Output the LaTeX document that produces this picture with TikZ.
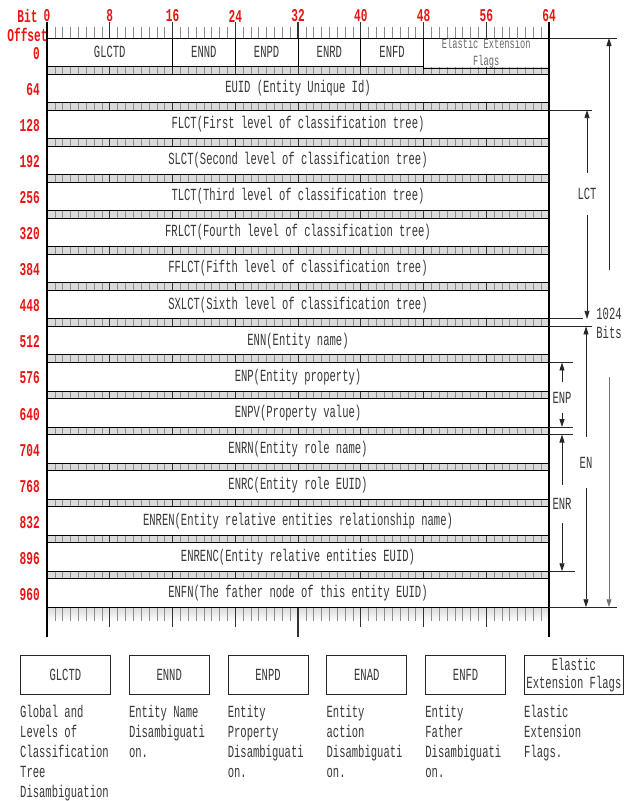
\documentclass[tikz,border=0pt]{standalone}
\usepackage{fontspec}
\setmainfont[FakeStretch=0.62]{Liberation Mono}
\usetikzlibrary{arrows.meta, positioning}
\definecolor{offsetred}{RGB}{235,20,20}
\definecolor{stripgray}{RGB}{218,218,218}
\definecolor{tickgray}{RGB}{140,140,140}
\definecolor{textgray}{RGB}{55,55,55}

\begin{document}
\begin{tikzpicture}[
    x=1pt, y=-1pt,
    >={Triangle[length=8pt, width=5pt]},
    % Table styles
    rowbox/.style={
        rectangle, draw=black, fill=white,
        text=textgray, font=\fontsize{17}{19}\selectfont,
        minimum width=502pt, minimum height=28.5pt,
        inner sep=0pt, outer sep=0pt, line width=0.9pt
    },
    cellbox/.style={
        rectangle, draw=black, fill=white,
        text=textgray, font=\fontsize{17}{19}\selectfont,
        minimum height=28.5pt, align=center,
        inner sep=0pt, outer sep=0pt, line width=0.9pt
    },
    offset/.style={
        text=offsetred, font=\fontsize{18}{21}\selectfont\bfseries,
        inner sep=0pt, align=center
    },
    minortick/.style={draw=tickgray, line width=0.6pt},
    majortick/.style={draw=black!80, line width=0.9pt},
    % Dimension styles
    dimlabel/.style={
        text=textgray, font=\fontsize{17}{19}\selectfont,
        align=center, inner sep=0pt
    },
    dimarrow/.style={->, line width=0.8pt, color=black!85},
    extline/.style={line width=0.8pt, color=black!85},
    % Key styles
    keybox/.style={
        rectangle, draw=black!85, fill=white,
        text=textgray, font=\fontsize{17}{19}\selectfont,
        minimum height=39pt, align=center,
        inner sep=0pt, line width=0.8pt
    },
    keydesc/.style={
        text=textgray, font=\fontsize{17}{20}\selectfont,
        align=left, inner sep=0pt
    },
]
\useasboundingbox (0,0) rectangle (625,801);

% ===== STRIPS BETWEEN ROWS =====
\foreach \i in {0,...,14} {
    \pgfmathsetmacro\ya{38+\i*36.05+28.5}
    \pgfmathsetmacro\yb{38+(\i+1)*36.05}
    \fill[stripgray] (47,\ya) rectangle (549,\yb);
    \foreach \b in {1,...,63} {
        \pgfmathsetmacro\xb{47+\b*7.84375}
        \draw[minortick] (\xb,\ya) -- (\xb,\yb);
    }
    \foreach \b in {8,16,...,56} {
        \pgfmathsetmacro\xb{47+\b*7.84375}
        \draw[majortick] (\xb,\ya) -- (\xb,\yb);
    }
}
% last strip fades out
\shade[top color=stripgray, bottom color=white] (47,607.25) rectangle (549,621);
\foreach \b in {1,...,63} {
    \pgfmathsetmacro\xb{47+\b*7.84375}
    \draw[minortick] (\xb,607.25) -- (\xb,621);
}
\foreach \b in {8,16,24,40,48,56} {
    \pgfmathsetmacro\xb{47+\b*7.84375}
    \draw[majortick] (\xb,607.25) -- (\xb,627);
}
\draw[majortick, line width=1.4pt] (298,607.25) -- (298,637);

% ===== ROW 0: FIELD CELLS =====
\foreach \name/\lo/\hi/\txt in {glctd/0/16/GLCTD, ennd/16/24/ENND, enpd/24/32/ENPD, enrd/32/40/ENRD, enfd/40/48/ENFD} {
    \pgfmathsetmacro\xl{47+\lo*7.84375}
    \pgfmathsetmacro\cellw{(\hi-\lo)*7.84375}
    \node[cellbox, minimum width=\cellw pt, anchor=north west] (\name) at (\xl,38) {\txt};
}
\node[cellbox, minimum width=125.5pt, anchor=north west, fill=none,
      font=\fontsize{14}{16}\selectfont, text=black!60] (eef) at (423.5,38) {Elastic Extension\\[1pt]Flags};

% ===== ROWS 1-15 =====
\foreach \i/\txt in {
    1/{EUID (Entity Unique Id)},
    2/{FLCT(First level of classification tree)},
    3/{SLCT(Second level of classification tree)},
    4/{TLCT(Third level of classification tree)},
    5/{FRLCT(Fourth level of classification tree)},
    6/{FFLCT(Fifth level of classification tree)},
    7/{SXLCT(Sixth level of classification tree)},
    8/{ENN(Entity name)},
    9/{ENP(Entity property)},
    10/{ENPV(Property value)},
    11/{ENRN(Entity role name)},
    12/{ENRC(Entity role EUID)},
    13/{ENREN(Entity relative entities relationship name)},
    14/{ENRENC(Entity relative entities EUID)},
    15/{ENFN(The father node of this entity EUID)}} {
    \pgfmathsetmacro\ytop{38+\i*36.05}
    \node[rowbox, anchor=north west] (row\i) at (47,\ytop) {\txt};
}

% ===== FRAME AND BIT RULER =====
\draw[line width=1.6pt] (47,22) -- (47,637);
\draw[line width=1.6pt] (549,22) -- (549,637);
\foreach \b in {1,...,63} {
    \pgfmathsetmacro\xb{47+\b*7.84375}
    \draw[minortick] (\xb,27) -- (\xb,38);
}
\foreach \b in {8,16,...,56} {
    \pgfmathsetmacro\xb{47+\b*7.84375}
    \draw[majortick, line width=1.1pt] (\xb,22) -- (\xb,38);
}
\foreach \b in {0,8,...,64} {
    \pgfmathsetmacro\xb{47+\b*7.84375}
    \node[offset] (bit\b) at (\xb,16) {\b};
}
\node[offset] (bitlbl) at (27.5,16) {Bit};
\node[offset] (offsetlbl) at (27.5,35) {Offset};
\foreach \i in {0,...,15} {
    \pgfmathtruncatemacro\off{64*\i}
    \pgfmathsetmacro\yc{38+\i*36.05+15.6}
    \node[offset, anchor=east] (off\i) at (40,\yc) {\off};
}

% ===== DIMENSIONS =====
\coordinate (topend) at (617,38);
\coordinate (botend) at (617,607.25);
\draw[extline] (eef.north east) -- (eef.north east -| topend);
\draw[extline] (row15.south east) -- (row15.south east -| botend);

% 1024 bits
\node[dimlabel, minimum height=107pt] (bits) at (609,323.5) {1024\\Bits};
\draw[dimarrow] (bits.north) -- (bits.north |- topend);
\draw[dimarrow, color=black!55] (bits.south) -- (bits.south |- botend);

% LCT
\coordinate (lcttop) at (592,110.1);
\coordinate (lctbot) at (583,318.85);
\draw[extline] (row2.north east) -- (row2.north east -| lcttop);
\draw[extline] (row7.south east) -- (row7.south east -| lctbot);
\node[dimlabel, minimum height=42pt] (lct) at (587,194) {LCT};
\draw[dimarrow] (lct.north) -- (lct.north |- lcttop);
\draw[dimarrow] (lct.south) -- (lct.south |- lctbot);

% EN
\coordinate (entop) at (592,326.4);
\draw[extline] (row8.north east) -- (row8.north east -| entop);
\node[dimlabel, minimum height=51pt] (en) at (586,462.5) {EN};
\draw[dimarrow] (en.north) -- (en.north |- entop);
\draw[dimarrow] (en.south) -- (en.south |- botend);

% ENP
\coordinate (enptop) at (573,362.45);
\coordinate (enpbot) at (573,427);
\draw[extline] (row9.north east) -- (row9.north east -| enptop);
\draw[extline] (row10.south east) -- (row10.south east -| enpbot);
\node[dimlabel, minimum height=31pt] (enp) at (562,397.5) {ENP};
\draw[dimarrow] (enp.north) -- (enp.north |- enptop);
\draw[dimarrow] (enp.south) -- (enp.south |- enpbot);

% ENR
\coordinate (enrtop) at (573,434.55);
\coordinate (enrbot) at (575,571.25);
\draw[extline] (row11.north east) -- (row11.north east -| enrtop);
\draw[extline] (row14.south east) -- (row14.south east -| enrbot);
\node[dimlabel, minimum height=38pt] (enr) at (562,504) {ENR};
\draw[dimarrow] (enr.north) -- (enr.north |- enrtop);
\draw[dimarrow] (enr.south) -- (enr.south |- enrbot);

% ===== KEY =====
\node[keybox, minimum width=90pt, anchor=north west] (kglctd) at (20,655) {GLCTD};
\node[keybox, minimum width=80pt, right=18pt of kglctd] (kennd) {ENND};
\node[keybox, minimum width=80pt, right=18pt of kennd] (kenpd) {ENPD};
\node[keybox, minimum width=80pt, right=18pt of kenpd] (kenad) {ENAD};
\node[keybox, minimum width=80pt, right=18pt of kenad] (kenfd) {ENFD};
\node[keybox, minimum width=99pt, right=18pt of kenfd, font=\fontsize{17}{18}\selectfont] (keef) {Elastic\\Extension Flags};

\node[keydesc, below=10pt of kglctd.south west, anchor=north west] (dglctd) {Global and\\Levels of\\Classification\\Tree\\Disambiguation};
\node[keydesc, below=10pt of kennd.south west, anchor=north west] (dennd) {Entity Name\\Disambiguati\\on.};
\node[keydesc, below=10pt of kenpd.south west, anchor=north west] (denpd) {Entity\\Property\\Disambiguati\\on.};
\node[keydesc, below=10pt of kenad.south west, anchor=north west] (denad) {Entity\\action\\Disambiguati\\on.};
\node[keydesc, below=10pt of kenfd.south west, anchor=north west] (denfd) {Entity\\Father\\Disambiguati\\on.};
\node[keydesc, below=10pt of keef.south west, anchor=north west] (deef) {Elastic\\Extension\\Flags.};

\end{tikzpicture}
\end{document}
